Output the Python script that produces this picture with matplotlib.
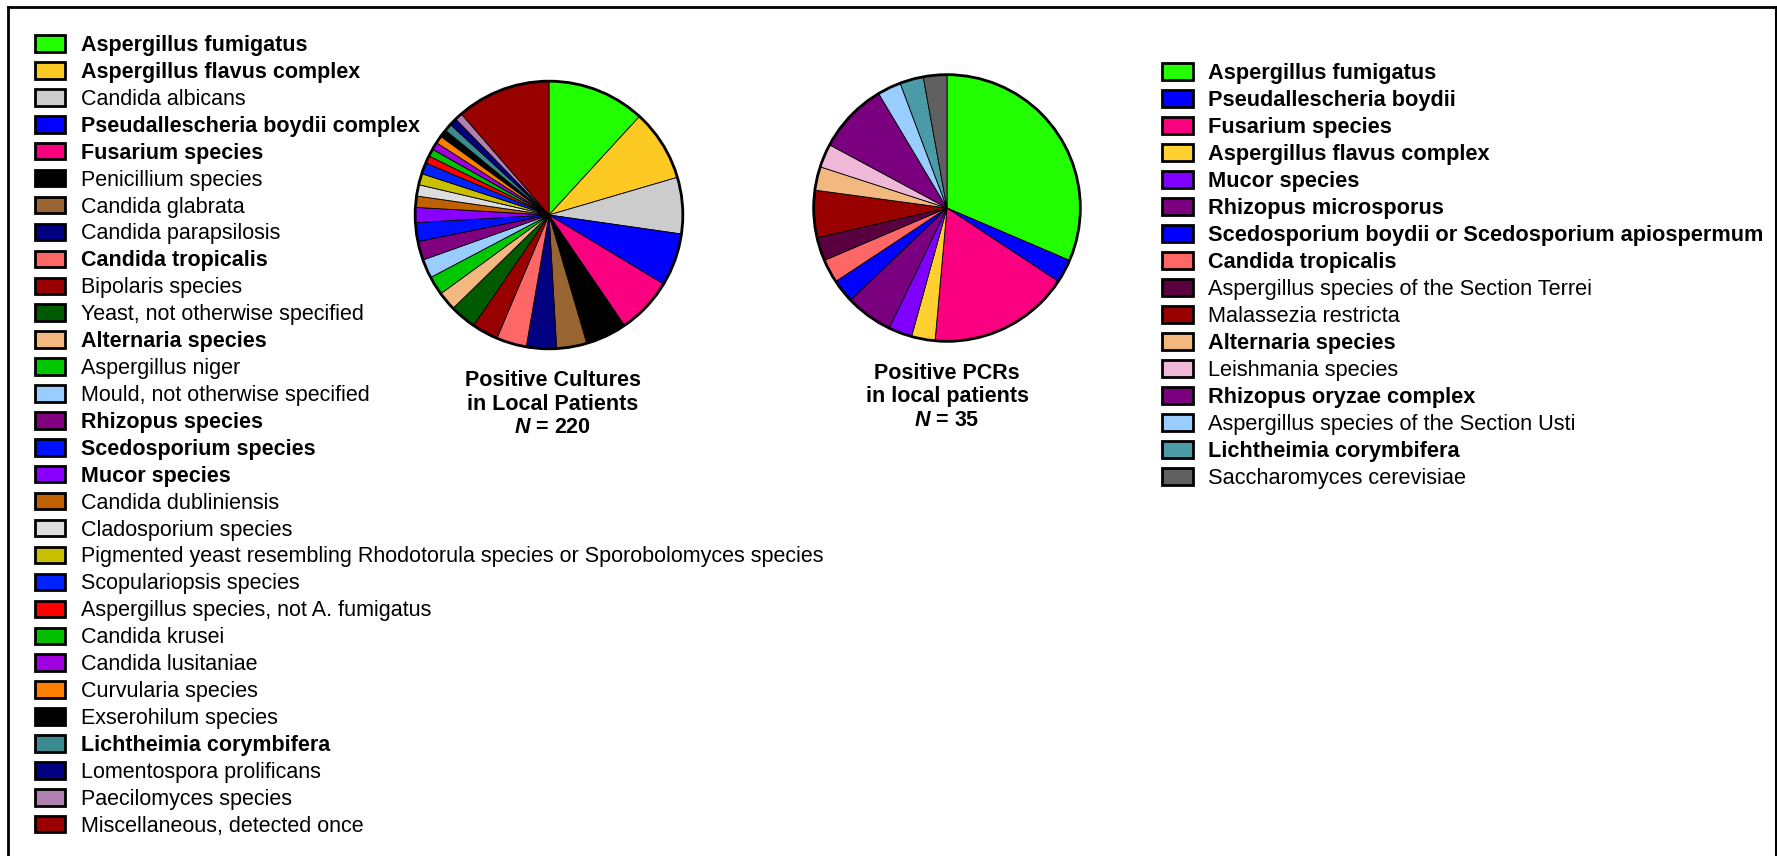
import matplotlib
matplotlib.use("Agg")
import matplotlib.pyplot as plt
from matplotlib.patches import Patch
from matplotlib.lines import Line2D

plt.rcParams['font.family'] = ['Liberation Sans', 'DejaVu Sans']
plt.rcParams['mathtext.fontset'] = 'custom'
plt.rcParams['mathtext.it'] = 'Liberation Sans:italic:bold'
plt.rcParams['mathtext.rm'] = 'Liberation Sans:bold'

# Positive cultures (N = 220)
cult_labels = [
    "Aspergillus fumigatus", "Aspergillus flavus complex", "Candida albicans",
    "Pseudallescheria boydii complex", "Fusarium species", "Penicillium species",
    "Candida glabrata", "Candida parapsilosis", "Candida tropicalis",
    "Bipolaris species", "Yeast, not otherwise specified", "Alternaria species",
    "Aspergillus niger", "Mould, not otherwise specified", "Rhizopus species",
    "Scedosporium species", "Mucor species", "Candida dubliniensis",
    "Cladosporium species",
    "Pigmented yeast resembling Rhodotorula species or Sporobolomyces species",
    "Scopulariopsis species", "Aspergillus species, not A. fumigatus",
    "Candida krusei", "Candida lusitaniae", "Curvularia species",
    "Exserohilum species", "Lichtheimia corymbifera", "Lomentospora prolificans",
    "Paecilomyces species", "Miscellaneous, detected once",
]
cult_values = [26, 19, 15, 14, 15, 11, 8, 8, 8, 7, 7, 5, 5, 5, 5, 5, 4, 3, 3, 3,
               3, 2, 2, 2, 2, 2, 2, 2, 2, 25]
cult_colors = [
    "#22ff00", "#fcca22", "#cccccc", "#0000ff", "#fa0080", "#000000",
    "#996633", "#000080", "#ff6666", "#990000", "#005a00", "#f2b880",
    "#00c800", "#99ccff", "#800080", "#0011ff", "#8800ff", "#c06000",
    "#dddddd", "#c8c000", "#0022ff", "#ff0000", "#00c000", "#a000e0",
    "#ff8000", "#000000", "#3a8a90", "#000080", "#b080b0", "#990000",
]
cult_bold = {"Aspergillus fumigatus", "Aspergillus flavus complex",
             "Pseudallescheria boydii complex", "Fusarium species",
             "Candida tropicalis", "Alternaria species", "Rhizopus species",
             "Scedosporium species", "Mucor species", "Lichtheimia corymbifera"}

# Positive PCRs (N = 35)
pcr_labels = [
    "Aspergillus fumigatus", "Pseudallescheria boydii", "Fusarium species",
    "Aspergillus flavus complex", "Mucor species", "Rhizopus microsporus",
    "Scedosporium boydii or Scedosporium apiospermum", "Candida tropicalis",
    "Aspergillus species of the Section Terrei", "Malassezia restricta",
    "Alternaria species", "Leishmania species", "Rhizopus oryzae complex",
    "Aspergillus species of the Section Usti", "Lichtheimia corymbifera",
    "Saccharomyces cerevisiae",
]
pcr_values = [11, 1, 6, 1, 1, 2, 1, 1, 1, 2, 1, 1, 3, 1, 1, 1]
pcr_colors = [
    "#22ff00", "#0000ff", "#fa0080", "#ffd030", "#8000ff", "#7b0080",
    "#0000ff", "#ff6666", "#5a0040", "#990000", "#f2b880", "#f0b8d8",
    "#7b0080", "#99ccff", "#4a9aa8", "#606060",
]
pcr_bold = {"Aspergillus fumigatus", "Pseudallescheria boydii", "Fusarium species",
            "Aspergillus flavus complex", "Mucor species", "Rhizopus microsporus",
            "Scedosporium boydii or Scedosporium apiospermum", "Candida tropicalis",
            "Alternaria species", "Rhizopus oryzae complex", "Lichtheimia corymbifera"}

W, H = 1777, 856
fig = plt.figure(figsize=(W / 100, H / 100), dpi=100)


def draw_pie(cx, cy, r, values, colors):
    ax = fig.add_axes([(cx - r) / W, 1 - (cy + r) / H, 2 * r / W, 2 * r / H])
    ax.pie(values, colors=colors, startangle=90, counterclock=False, radius=1,
           wedgeprops=dict(edgecolor="black", linewidth=0.6))
    ax.add_patch(plt.Circle((0, 0), 1, fill=False, edgecolor="black", linewidth=2))
    ax.set_xlim(-1.02, 1.02)
    ax.set_ylim(-1.02, 1.02)
    ax.set_aspect("equal")
    ax.axis("off")


draw_pie(549, 215, 136.5, cult_values, cult_colors)
draw_pie(947, 208, 136, pcr_values, pcr_colors)

# titles under the pies
fig.text(553 / W, 1 - 404 / H, "Positive Cultures\nin Local Patients\n$N$ = 220",
         ha="center", va="center", fontsize=15.5, fontweight="bold", linespacing=1.18)
fig.text(947 / W, 1 - 397 / H, "Positive PCRs\nin local patients\n$N$ = 35",
         ha="center", va="center", fontsize=15.5, fontweight="bold", linespacing=1.18)


def draw_legend(x, y, labels, colors, bold, fs):
    handles = [Patch(facecolor=c, edgecolor="black", linewidth=2) for c in colors]
    leg = fig.legend(handles, labels, loc="upper left", bbox_to_anchor=(x / W, 1 - y / H),
                     frameon=False, fontsize=fs, borderpad=0, borderaxespad=0,
                     handlelength=1.4, handleheight=0.8, handletextpad=0.72,
                     labelspacing=0.275)
    for t in leg.get_texts():
        if t.get_text() in bold:
            t.set_fontweight("bold")
    return leg


draw_legend(35, 35, cult_labels, cult_colors, cult_bold, 15.5)
draw_legend(1162, 63, pcr_labels, pcr_colors, pcr_bold, 15.7)

# frame lines (left, top, right)
fig.add_artist(Line2D([8 / W, 8 / W], [0, 1 - 7 / H], transform=fig.transFigure,
                      color="black", linewidth=2))
fig.add_artist(Line2D([8 / W, 1], [1 - 7 / H, 1 - 7 / H], transform=fig.transFigure,
                      color="black", linewidth=2))
fig.add_artist(Line2D([1 - 1.5 / W, 1 - 1.5 / W], [0, 1 - 7 / H], transform=fig.transFigure,
                      color="black", linewidth=1.5))

fig.savefig("out.png", dpi=100)
